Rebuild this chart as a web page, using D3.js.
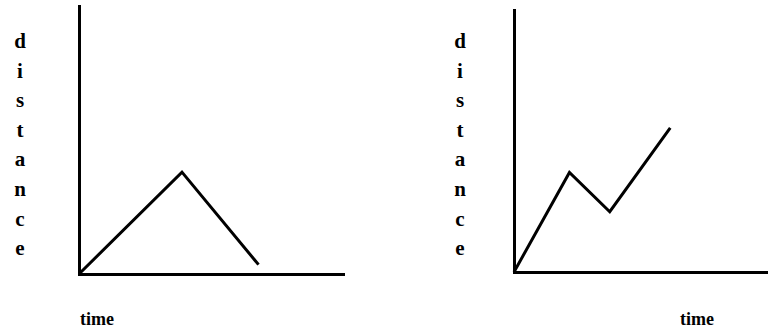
<!DOCTYPE html>
<html>
<head>
<meta charset="utf-8">
<script src="https://cdn.jsdelivr.net/npm/d3@7"></script>
<style>
html,body{margin:0;padding:0;background:#fff;}
svg{display:block;}
text{font-family:"Liberation Serif","Times New Roman",serif;font-weight:bold;fill:#000;}
</style>
</head>
<body>
<svg id="chart" width="772" height="330"></svg>
<script>
// Data
const yLabelLetters = ["d","i","s","t","a","n","c","e"];
const xLabel = "time";
const leftTimes = [0, 3.9, 6.8];
const leftDistances = [0, 3.8, 0.35];
const rightTimes = [0, 2.2, 3.8, 6.2];
const rightDistances = [0, 3.8, 2.3, 5.5];

const svg = d3.select("#chart");

const panels = [
  {times: leftTimes, dist: leftDistances, x0: 79, x1: 343, y0: 274, y1: 6, labelX: 20, timeX: 80},
  {times: rightTimes, dist: rightDistances, x0: 514, x1: 766, y0: 272, y1: 10, labelX: 460, timeX: 680}
];

panels.forEach(p => {
  const x = d3.scaleLinear().domain([0, 10]).range([p.x0, p.x1]);
  const y = d3.scaleLinear().domain([0, 10]).range([p.y0, p.y1]);
  const g = svg.append("g");

  const xAxis = g.append("g").attr("transform", `translate(0,${p.y0})`)
    .call(d3.axisBottom(x).tickValues([]).tickSizeOuter(0));
  const yAxis = g.append("g").attr("transform", `translate(${p.x0},0)`)
    .call(d3.axisLeft(y).tickValues([]).tickSizeOuter(0));
  [xAxis, yAxis].forEach(a => a.select(".domain").attr("stroke", "#000").attr("stroke-width", 3).attr("stroke-linecap", "square"));

  const data = p.times.map((t, i) => [t, p.dist[i]]);
  g.append("path").datum(data)
    .attr("fill", "none").attr("stroke", "#000").attr("stroke-width", 3)
    .attr("stroke-linejoin", "miter").attr("stroke-linecap", "butt")
    .attr("d", d3.line().x(d => x(d[0])).y(d => y(d[1])));

  g.selectAll("text.yl").data(yLabelLetters).join("text")
    .attr("class", "yl")
    .attr("x", p.labelX).attr("y", (d, i) => 48 + i * 29.6)
    .attr("text-anchor", "middle").attr("font-size", 21)
    .text(d => d);

  g.append("text").attr("x", p.timeX).attr("y", 325)
    .attr("font-size", 18).text(xLabel);
});
</script>
</body>
</html>
